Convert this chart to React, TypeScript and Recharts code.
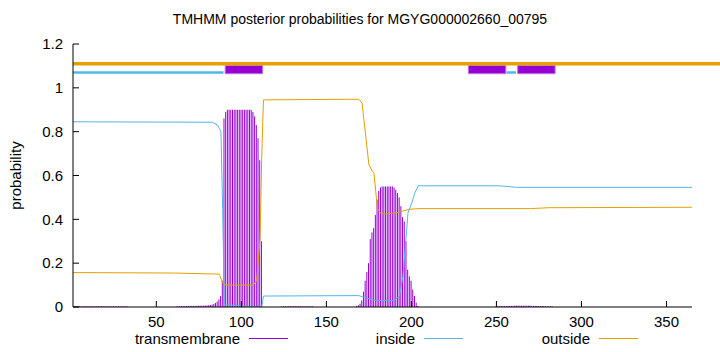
import * as React from 'react';
import { ComposedChart, Bar, Line, XAxis, YAxis, ReferenceArea, ReferenceLine, Label } from 'recharts';

// posterior probability of transmembrane, per residue, in runs: [first residue, values...]
const tmRuns: [number, number[]][] = [
  [1, [0.003, 0.003, 0.003, 0.003, 0.003, 0.003, 0.003, 0.003, 0.003, 0.003, 0.003, 0.003, 0.003, 0.003, 0.003, 0.003,
    0.003, 0.003, 0.003, 0.003, 0.003, 0.003, 0.003, 0.003, 0.003, 0.003, 0.003, 0.003, 0.003, 0.003, 0.003, 0.003, 0.003]],
  [62, [0.003, 0.003, 0.004, 0.004, 0.004, 0.004, 0.004, 0.005, 0.005, 0.005, 0.005, 0.005, 0.005, 0.006, 0.006, 0.006,
    0.006, 0.007, 0.007, 0.008,
    0.009, 0.011, 0.014, 0.018, 0.025, 0.035, 0.05, 0.12,
    0.86, 0.89, 0.9, 0.9, 0.9, 0.9, 0.9, 0.9, 0.9, 0.9, 0.9, 0.9, 0.9, 0.9, 0.9, 0.9, 0.9,
    0.89, 0.87, 0.83, 0.77, 0.67, 0.3]],
  [124, [0.003, 0.003, 0.003, 0.003, 0.003, 0.003, 0.003, 0.003, 0.003, 0.003, 0.003, 0.003, 0.003, 0.003, 0.003, 0.003,
    0.003, 0.003, 0.003]],
  [168, [0.005, 0.008, 0.015, 0.03, 0.07, 0.12, 0.16, 0.2, 0.31, 0.34, 0.36, 0.42, 0.49, 0.53, 0.545,
    0.55, 0.55, 0.55, 0.55, 0.55, 0.55, 0.55,
    0.545, 0.535, 0.52, 0.5, 0.46, 0.41, 0.39, 0.3, 0.17, 0.14, 0.12, 0.08, 0.05, 0.02, 0.005]],
  [250, [0.003, 0.003, 0.003, 0.004, 0.004, 0.004, 0.004, 0.005, 0.005, 0.005, 0.005, 0.006, 0.006, 0.006, 0.006, 0.006,
    0.006, 0.006, 0.006, 0.006, 0.006, 0.005, 0.005, 0.005, 0.005, 0.004, 0.004, 0.004, 0.004, 0.003, 0.003, 0.003,
    0.003, 0.003]],
];

// inside / outside probability curves (residue, probability)
const insidePoints: [number, number][] = [
  [1, 0.845], [83, 0.843], [86, 0.83], [88, 0.8], [89, 0.45], [90, 0.01], [112, 0.0], [113, 0.05],
  [169, 0.052], [172, 0.045], [176, 0.035], [179, 0.03], [190, 0.03], [193, 0.05], [195, 0.14],
  [197, 0.33], [198, 0.43], [200, 0.47], [202, 0.52], [204, 0.553], [252, 0.553], [262, 0.546], [365, 0.546],
];
const outsidePoints: [number, number][] = [
  [1, 0.157], [60, 0.155], [87, 0.15], [89, 0.11], [91, 0.1], [107, 0.1], [109, 0.12], [111, 0.31],
  [112, 0.69], [113, 0.945], [169, 0.948], [171, 0.93], [173, 0.79], [175, 0.65], [177, 0.62], [178, 0.61],
  [179, 0.53], [180, 0.45], [182, 0.427], [185, 0.424], [191, 0.43], [199, 0.446], [205, 0.449],
  [270, 0.449], [281, 0.453], [365, 0.455],
];

// predicted topology bars drawn above the curves
const tmRegions: [number, number][] = [[90.5, 112.5], [233.5, 255.5], [262.5, 284.5]];
const insideRegions: [number, number][] = [[1, 89.5], [256, 261.5]];
const outsideRegions: [number, number][] = [[1, 400]];

const xTicks = [50, 100, 150, 200, 250, 300, 350];
const yTicks = [0, 0.2, 0.4, 0.6, 0.8, 1, 1.2];
const seqLength = 365;

const PURPLE = '#9400d3';
const CYAN = '#56b4e9';
const ORANGE = '#e69f00';
const FONT = '"Liberation Sans", Arial, sans-serif';

const tmData = Array.from({ length: seqLength }, (_, i) => ({ pos: i + 1, tm: 0 }));
tmRuns.forEach(([start, vals]) => {
  vals.forEach((v, k) => {
    tmData[start - 1 + k].tm = v;
  });
});
const insideData = insidePoints.map(([pos, p]) => ({ pos, inside: p }));
const outsideData = outsidePoints.map(([pos, p]) => ({ pos, outside: p }));

const legendItems = [
  { name: 'transmembrane', color: PURPLE },
  { name: 'inside', color: CYAN },
  { name: 'outside', color: ORANGE },
];

const tickStyle = { fontSize: 15, fill: '#000', fontFamily: FONT };

// gnuplot style impulse: a 1px vertical line at the bar's centre
const Impulse = (props: any) => {
  const { x, y, width, height } = props;
  if (!height || height <= 0) return null;
  const cx = x + width / 2;
  return <line x1={cx} x2={cx} y1={y} y2={y + height} stroke={PURPLE} strokeWidth={1} />;
};

export default function App() {
  return (
    <div style={{ position: 'absolute', left: 0, top: 0, width: 720, height: 352, background: '#fff', fontFamily: FONT }}>
      <div style={{ position: 'absolute', top: 11, left: 0, width: 720, textAlign: 'center', fontSize: 14 }}>
        TMHMM posterior probabilities for MGYG000002660_00795
      </div>
      <ComposedChart width={720} height={352} data={tmData} margin={{ top: 44, right: 28, bottom: 0, left: 0 }}>
        <XAxis dataKey="pos" type="number" domain={[1, seqLength]} ticks={xTicks} allowDataOverflow
          height={45} tickSize={-6} tickMargin={15} tick={tickStyle}
          axisLine={{ stroke: '#000' }} tickLine={{ stroke: '#000' }} />
        <XAxis xAxisId="top" orientation="top" dataKey="pos" type="number" domain={[1, seqLength]} ticks={xTicks}
          allowDataOverflow height={0} tickSize={-6} tick={false}
          axisLine={{ stroke: '#000' }} tickLine={{ stroke: '#000' }} />
        <YAxis type="number" domain={[0, 1.2]} ticks={yTicks} allowDataOverflow width={73}
          tickSize={-6} tickMargin={16} tick={tickStyle}
          axisLine={{ stroke: '#000' }} tickLine={{ stroke: '#000' }}>
          <Label value="probability" angle={-90} position="insideLeft" offset={16}
            style={{ textAnchor: 'middle', fontSize: 15, fill: '#000', fontFamily: FONT }} />
        </YAxis>
        <YAxis yAxisId="right" orientation="right" type="number" domain={[0, 1.2]} ticks={yTicks} width={0}
          tickSize={-6} tick={false} axisLine={{ stroke: '#000' }} tickLine={{ stroke: '#000' }} />

        <Bar dataKey="tm" fill={PURPLE} barSize={1} shape={Impulse} isAnimationActive={false} />
        <Line data={insideData} dataKey="inside" type="linear" stroke={CYAN} strokeWidth={1} dot={false}
          isAnimationActive={false} />
        <Line data={outsideData} dataKey="outside" type="linear" stroke={ORANGE} strokeWidth={1} dot={false}
          isAnimationActive={false} />

        {tmRegions.map(([a, b], i) => (
          <ReferenceArea key={'tm' + i} x1={a} x2={b} y1={1.0645} y2={1.102} fill={PURPLE} fillOpacity={1}
            stroke="#c070f0" strokeWidth={1} ifOverflow="visible" />
        ))}
        {insideRegions.map(([a, b], i) => (
          <ReferenceLine key={'in' + i} segment={[{ x: a, y: 1.07 }, { x: b, y: 1.07 }]} stroke={CYAN}
            strokeWidth={2.5} ifOverflow="visible" />
        ))}
        {outsideRegions.map(([a, b], i) => (
          <ReferenceLine key={'out' + i} segment={[{ x: a, y: 1.11 }, { x: b, y: 1.11 }]} stroke={ORANGE}
            strokeWidth={3.5} ifOverflow="visible" />
        ))}
      </ComposedChart>
      <div style={{ position: 'absolute', top: 330, left: 113, display: 'flex', fontSize: 15 }}>
        {legendItems.map((it) => (
          <div key={it.name} style={{ width: 175, display: 'flex', justifyContent: 'flex-end', alignItems: 'center' }}>
            <span>{it.name}</span>
            <div style={{ width: 39, height: 1, background: it.color, marginLeft: 9 }} />
          </div>
        ))}
      </div>
    </div>
  );
}
